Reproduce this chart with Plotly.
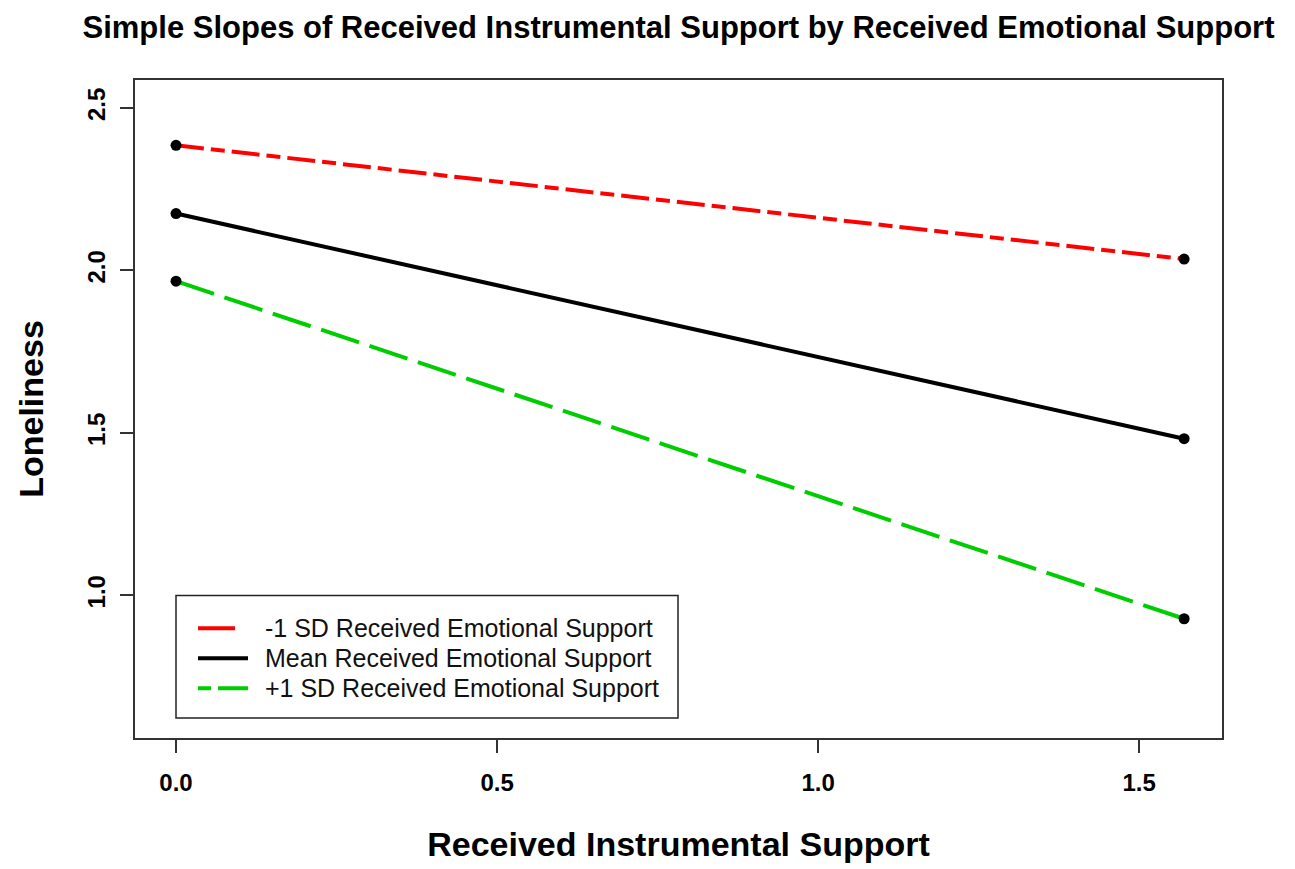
import plotly.graph_objects as go

# Simple slopes: predicted loneliness at the low and high end of
# received instrumental support, for three levels of emotional support
instrumental = [0.0, 1.57]
low_emotional = [2.385, 2.035]    # -1 SD
mean_emotional = [2.175, 1.482]   # mean
high_emotional = [1.967, 0.928]   # +1 SD

series_names = [
    "-1 SD Received Emotional Support",
    "Mean Received Emotional Support",
    "+1 SD Received Emotional Support",
]
series_values = [low_emotional, mean_emotional, high_emotional]
series_colors = ["#FF0000", "#000000", "#00CD00"]
series_dashes = ["28px,7px,14px,7px", "solid", "40px,11px"]

x_ticks = [0.0, 0.5, 1.0, 1.5]
y_ticks = [1.0, 1.5, 2.0, 2.5]

FONT = "Liberation Sans, Arial, sans-serif"

fig = go.Figure()

for name, vals, col, dash in zip(series_names, series_values, series_colors, series_dashes):
    fig.add_trace(go.Scatter(
        x=instrumental, y=vals, mode="lines", name=name, showlegend=False,
        line=dict(color=col, width=4, dash=dash),
    ))

for vals in series_values:
    fig.add_trace(go.Scatter(
        x=instrumental, y=vals, mode="markers", showlegend=False,
        marker=dict(color="black", size=11),
        hoverinfo="skip",
    ))

axis_common = dict(
    showline=True, linecolor="#333333", linewidth=1.5, mirror=True,
    ticks="outside", ticklen=13, tickwidth=1.5, tickcolor="#333333",
    showgrid=False, zeroline=False,
    tickfont=dict(family=FONT, size=24, color="black", weight="bold"),
)

fig.update_xaxes(
    range=[-0.0639, 1.629], tickvals=x_ticks,
    ticktext=[f"{v:.1f}" for v in x_ticks],
    ticklabelstandoff=9,
    title=dict(text="Received Instrumental Support", standoff=38,
               font=dict(family=FONT, size=34, color="black", weight="bold")),
    **axis_common,
)
fig.update_yaxes(
    range=[0.561, 2.586], tickvals=y_ticks,
    ticktext=[f"{v:.1f}" for v in y_ticks],
    tickangle=-90, ticklabelstandoff=6,
    title=dict(text="Loneliness", standoff=29,
               font=dict(family=FONT, size=34, color="black", weight="bold")),
    **axis_common,
)

# Legend, drawn in plot-area (paper) coordinates
PW, PH = 1087.0, 660.0   # plot area size in px
def px_x(v):
    return v / PW
def px_y(v):
    return 1 - v / PH

fig.add_shape(type="rect", xref="paper", yref="paper",
              x0=px_x(41), x1=px_x(543), y0=px_y(517), y1=px_y(640),
              line=dict(color="#222222", width=1.5), fillcolor="rgba(0,0,0,0)")

legend_dashes = ["solid", "solid", "13px,7px,30px,7px"]
legend_len = [37, 50, 50]
for i, (name, col, dash) in enumerate(zip(series_names, series_colors, legend_dashes)):
    row = 550 + 30 * i
    fig.add_shape(type="line", xref="paper", yref="paper",
                  x0=px_x(63), x1=px_x(63 + legend_len[i]), y0=px_y(row), y1=px_y(row),
                  line=dict(color=col, width=4, dash=dash))
    fig.add_annotation(xref="paper", yref="paper", x=px_x(128), y=px_y(row),
                       xanchor="left", yanchor="middle", showarrow=False,
                       text=name, font=dict(family=FONT, size=25, color="#111111"))

fig.update_layout(
    width=1295, height=869,
    margin=dict(l=135, r=73, t=80, b=129),
    paper_bgcolor="white", plot_bgcolor="white",
    title=dict(text="Simple Slopes of Received Instrumental Support by Received Emotional Support",
               x=0.5, xref="paper", xanchor="center", y=1 - 27 / 869, yanchor="middle",
               font=dict(family=FONT, size=31, color="black", weight="bold")),
    showlegend=False,
)

fig.write_html("out.html")
